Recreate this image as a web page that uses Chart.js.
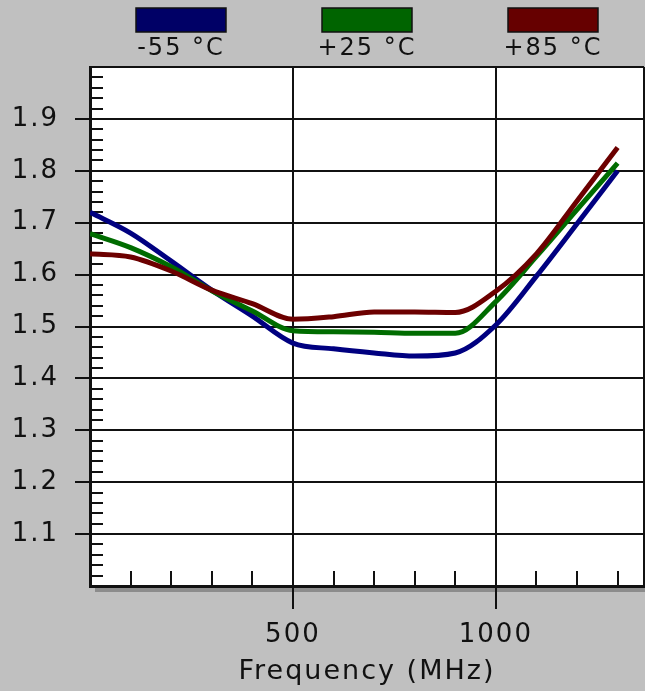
<!DOCTYPE html>
<html>
<head>
<meta charset="utf-8">
<script src="https://cdn.jsdelivr.net/npm/chart.js@4/dist/chart.umd.min.js"></script>
<style>
  html, body { margin: 0; padding: 0; background: #c0c0c0; }
  canvas { display: block; }
</style>
</head>
<body>
<canvas id="chart" width="645" height="691"></canvas>
<script>
// frequency points (MHz)
const freqs = [0, 100, 200, 300, 400, 500, 600, 700, 800, 900, 1000, 1100, 1200, 1300];

// values, one per frequency
const coldValues = [1.720, 1.680, 1.626, 1.570, 1.520, 1.468, 1.457, 1.449, 1.443, 1.449, 1.503, 1.597, 1.698, 1.800];
const roomValues = [1.679, 1.652, 1.615, 1.569, 1.530, 1.492, 1.490, 1.489, 1.487, 1.487, 1.548, 1.635, 1.725, 1.815];
const hotValues  = [1.640, 1.634, 1.607, 1.570, 1.544, 1.514, 1.519, 1.528, 1.528, 1.527, 1.568, 1.640, 1.742, 1.845];

const seriesLabels = ['-55 °C', '+25 °C', '+85 °C'];
const xLabelTicks = [500, 1000];
const yLabelTicks = [1.1, 1.2, 1.3, 1.4, 1.5, 1.6, 1.7, 1.8, 1.9];
const xTitle = 'Frequency (MHz)';
const X_MAX = 1365;

const lineColors = ['#000080', '#006c00', '#6c0000'];
const boxColors = ['#000066', '#006400', '#660000'];

const FONT = '"DejaVu Sans", "Liberation Sans", sans-serif';

function toPoints(values) {
    return freqs.map((f, i) => ({ x: f, y: values[i] }));
}

const isXLabel = v => xLabelTicks.includes(v);
const isYLabel = v => yLabelTicks.some(t => Math.abs(t - v) < 1e-6);

// grey page, white plot, shadow under the x axis
const panelPlugin = {
    id: 'panel',
    beforeDraw(chart) {
        const { ctx, chartArea: a } = chart;
        ctx.letterSpacing = '2px';
        ctx.save();
        ctx.fillStyle = '#c0c0c0';
        ctx.fillRect(0, 0, chart.width, chart.height);
        ctx.fillStyle = '#ffffff';
        ctx.fillRect(a.left, a.top, a.right - a.left, a.bottom - a.top);
        ctx.fillStyle = '#8c8c8c';
        ctx.fillRect(a.left + 5, a.bottom + 1, chart.width - a.left - 5, 5);
        ctx.restore();
    }
};

// small inner ticks along the left and bottom edges
const minorTicksPlugin = {
    id: 'minorTicks',
    beforeDatasetsDraw(chart) {
        const { ctx, chartArea: a, scales: { x, y } } = chart;
        ctx.save();
        ctx.strokeStyle = '#111';
        ctx.lineWidth = 2;
        ctx.beginPath();
        for (let k = 51; k < 100; k++) {
            if (k % 5 === 0) continue;
            const py = Math.round(y.getPixelForValue(k / 50));
            ctx.moveTo(a.left, py);
            ctx.lineTo(a.left + 13, py);
        }
        for (let k = 1; k <= 13; k++) {
            const v = k * 100;
            if (isXLabel(v)) continue;
            const px = Math.round(x.getPixelForValue(v));
            ctx.moveTo(px, a.bottom);
            ctx.lineTo(px, a.bottom - 15);
        }
        ctx.stroke();
        ctx.restore();
    }
};

// legend: coloured box with the label under it
const boxLegendPlugin = {
    id: 'boxLegend',
    afterDraw(chart) {
        const ctx = chart.ctx;
        ctx.save();
        ctx.font = '24px ' + FONT;
        ctx.textAlign = 'center';
        ctx.textBaseline = 'alphabetic';
        chart.data.datasets.forEach((ds, i) => {
            const bx = 136 + i * 186;
            ctx.fillStyle = boxColors[i];
            ctx.fillRect(bx, 8, 90, 24);
            ctx.strokeStyle = '#111';
            ctx.lineWidth = 1.5;
            ctx.strokeRect(bx, 8, 90, 24);
            ctx.fillStyle = '#111';
            ctx.fillText(ds.label, bx + 45, 55);
        });
        ctx.restore();
    }
};

const datasets = [coldValues, roomValues, hotValues].map((vals, i) => ({
    label: seriesLabels[i],
    data: toPoints(vals),
    borderColor: lineColors[i],
    backgroundColor: lineColors[i],
    borderWidth: 5,
    pointRadius: 0,
    cubicInterpolationMode: 'monotone',
    fill: false,
    order: 2 - i
}));

new Chart(document.getElementById('chart'), {
    type: 'line',
    data: { datasets },
    options: {
        responsive: false,
        animation: false,
        devicePixelRatio: 1,
        layout: { padding: { top: 67, right: 1, left: 0, bottom: 0 } },
        plugins: {
            legend: { display: false },
            tooltip: { enabled: false }
        },
        scales: {
            x: {
                type: 'linear',
                min: 0,
                max: X_MAX,
                afterFit(scale) {
                    scale.height = 105;
                    scale.paddingLeft = 0;
                    scale.paddingRight = 0;
                },
                border: { display: true, color: '#111', width: 3 },
                grid: {
                    drawOnChartArea: true,
                    color: c => (isXLabel(c.tick.value) || c.tick.value === X_MAX) ? '#111' : 'rgba(0,0,0,0)',
                    lineWidth: 2,
                    tickLength: 23,
                    tickWidth: 2,
                    tickColor: c => isXLabel(c.tick.value) ? '#111' : 'rgba(0,0,0,0)'
                },
                ticks: {
                    stepSize: 100,
                    autoSkip: false,
                    maxRotation: 0,
                    padding: 11,
                    color: '#111',
                    font: { family: FONT, size: 26 },
                    callback: v => isXLabel(v) ? String(v) : ''
                },
                title: {
                    display: true,
                    text: xTitle,
                    color: '#111',
                    font: { family: FONT, size: 27 },
                    padding: { top: 0, bottom: 3 }
                }
            },
            y: {
                min: 1.0,
                max: 2.0,
                afterFit(scale) {
                    scale.width = 90;
                    scale.paddingTop = 0;
                    scale.paddingBottom = 0;
                },
                border: { display: true, color: '#111', width: 3 },
                grid: {
                    color: '#111',
                    lineWidth: 2,
                    tickLength: 15,
                    tickWidth: 2,
                    tickColor: c => isYLabel(c.tick.value) ? '#111' : 'rgba(0,0,0,0)'
                },
                ticks: {
                    stepSize: 0.1,
                    autoSkip: false,
                    padding: 16,
                    color: '#111',
                    font: { family: FONT, size: 26 },
                    callback: v => isYLabel(v) ? v.toFixed(1) : ''
                }
            }
        }
    },
    plugins: [panelPlugin, minorTicksPlugin, boxLegendPlugin]
});
</script>
</body>
</html>
